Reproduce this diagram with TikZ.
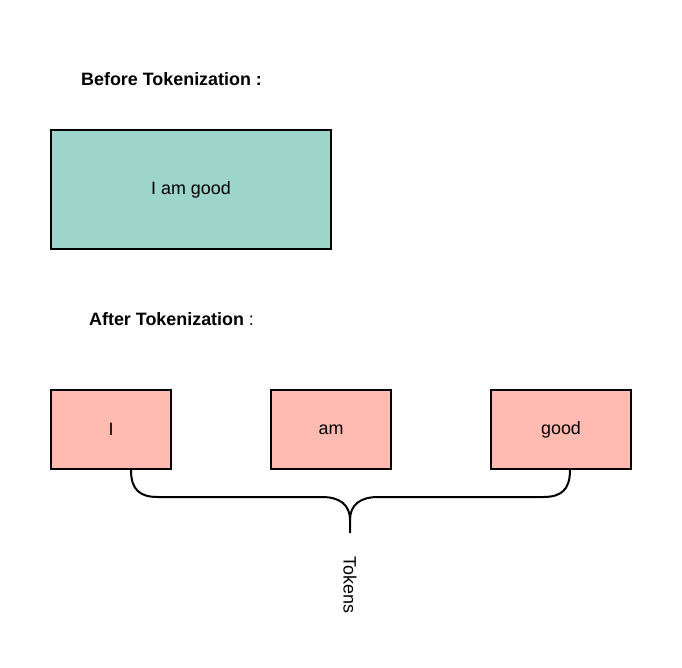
\documentclass[tikz,border=0pt]{standalone}
\usepackage{fontspec}
\setmainfont{Liberation Sans}
\definecolor{teal1}{HTML}{9ED5CB}
\definecolor{pink1}{HTML}{FFBBB1}
\begin{document}
\begin{tikzpicture}[x=1pt,y=-1pt,
  txt/.style={font=\fontsize{17.9}{21}\selectfont, inner sep=0pt},
  box/.style={draw=black, line width=2pt, inner sep=0pt, txt},
  tok/.style={box, fill=pink1, minimum height=79pt},
  brace/.style={draw=black, line width=2pt, line join=round}]
\useasboundingbox (0,0) rectangle (682,667);
\node[txt, font=\fontsize{17.9}{21}\selectfont\bfseries, anchor=west] (before) at (81,79) {Before Tokenization :};
\node[box, fill=teal1, minimum width=280pt, minimum height=119pt] (sent) at (191,189.5) {I am good};
\node[txt, anchor=west] (after) at (89,319) {\textbf{After Tokenization} :};
\node[tok, minimum width=120pt] (t1) at (111,429.5) {I};
\node[tok, minimum width=120pt] (t2) at (331,429.5) {am};
\node[tok, minimum width=140pt] (t3) at (561,429.5) {good};
\coordinate (tip) at (350,533);
\draw[brace] (t1.south -| 131,0) .. controls (131,490) and (140,497) .. (158,497)
  -- (322,497) .. controls (340,497) and (350,505) .. (350,520) -- (tip);
\draw[brace] (t3.south -| 570,0) .. controls (570,490) and (561,497) .. (543,497)
  -- (378,497) .. controls (360,497) and (350,505) .. (350,520);
\node[txt, rotate=-90] (tokens) at (350,585) {Tokens};
\end{tikzpicture}
\end{document}
